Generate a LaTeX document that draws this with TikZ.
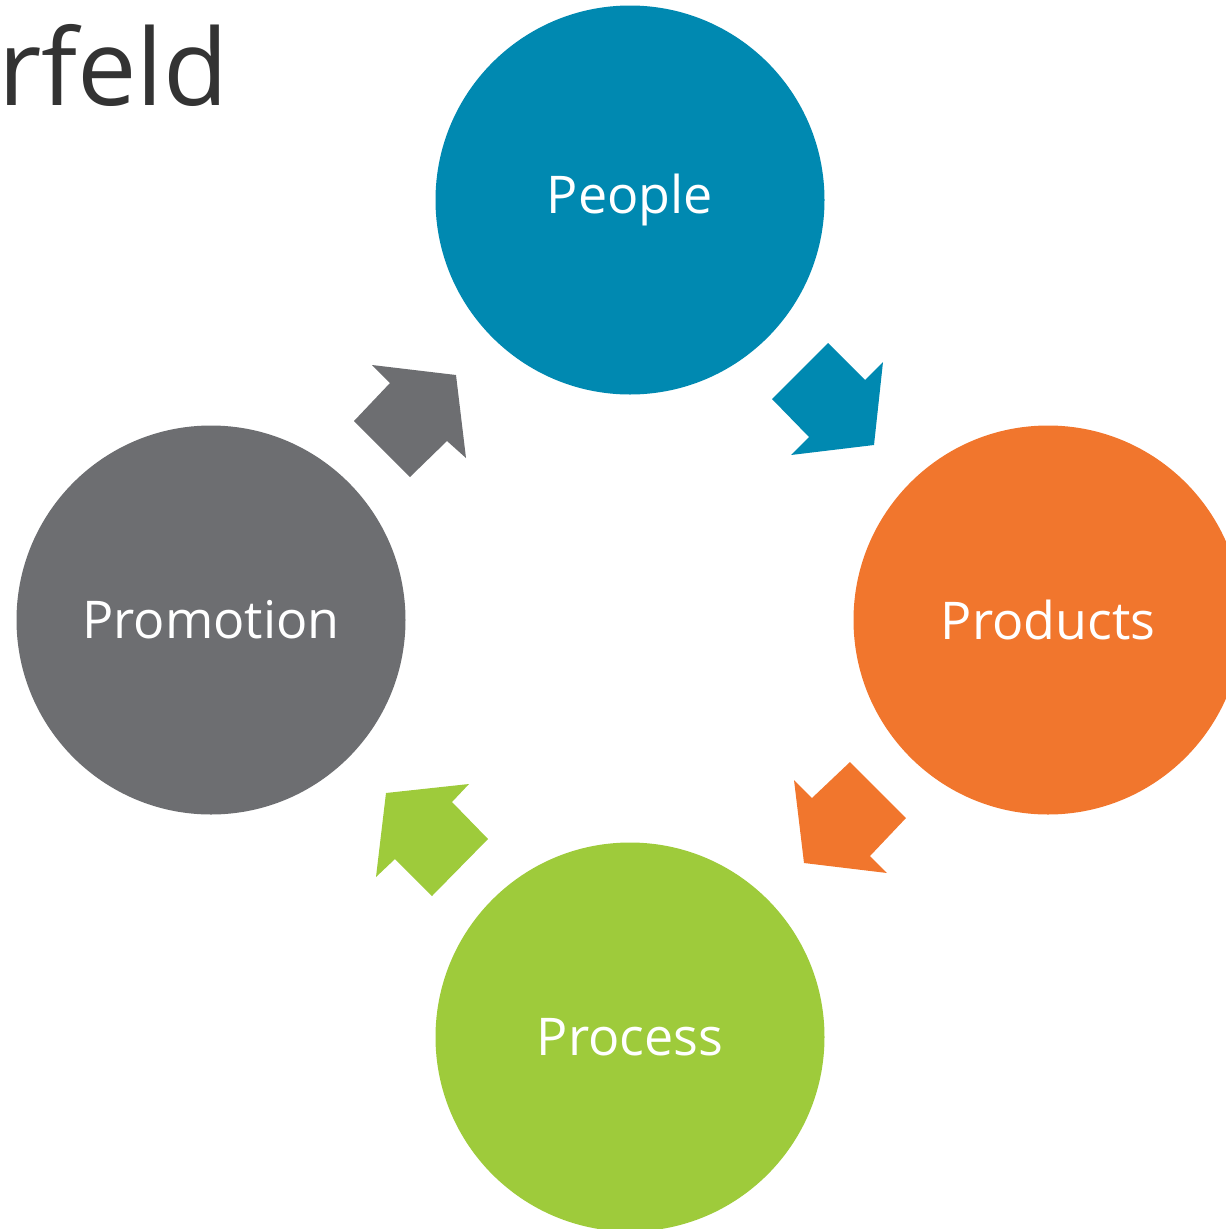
\documentclass[tikz,border=0pt]{standalone}
\usepackage{fontspec}
\setmainfont{Open Sans}
\usetikzlibrary{positioning}

\definecolor{peopleblue}{RGB}{0,137,177}
\definecolor{prodorange}{RGB}{241,118,45}
\definecolor{procgreen}{RGB}{158,203,59}
\definecolor{promogrey}{RGB}{109,110,113}
\definecolor{titlegrey}{RGB}{51,51,51}

\tikzset{
	stage/.style={circle,minimum size=389pt,inner sep=0pt,text=white,font=\fontsize{52}{60}\selectfont},
	flow/.style={draw=none}
}

\begin{document}
\begin{tikzpicture}[x=1pt,y=-1pt]
	\useasboundingbox (0,0) rectangle (1226,1229) ;
	\clip (0,0) rectangle (1226,1229) ;

	\node [anchor=base east,text=titlegrey,font=\fontsize{106}{120}\selectfont] (title) at (232,105) {rfeld} ;

	\node [stage,fill=peopleblue]  (People)    at (630,200)  {People} ;
	\node [stage,fill=prodorange]  (Products)  at (1048,620) {Products} ;
	\node [stage,fill=procgreen]   (Process)   at (630,1037) {Process} ;
	\node [stage,fill=promogrey]   (Promotion) at (211,620)  {Promotion} ;

	% block arrows between the stages
	\fill [flow,peopleblue] (772,399) -- (828,343) -- (865,380) -- (883,362)
		-- (874,445) -- (791,455) -- (809,437) -- cycle ;
	\fill [flow,prodorange] (850,762) -- (906,818) -- (870,856) -- (887,873)
		-- (804,863) -- (794,780) -- (812,798) -- cycle ;
	\fill [flow,procgreen] (488,839) -- (432,896) -- (395,859) -- (376,877)
		-- (386,793) -- (469,784) -- (452,802) -- cycle ;
	\fill [flow,promogrey] (354,421) -- (410,477) -- (447,441) -- (466,458)
		-- (456,375) -- (372,365) -- (390,383) -- cycle ;
\end{tikzpicture}
\end{document}
